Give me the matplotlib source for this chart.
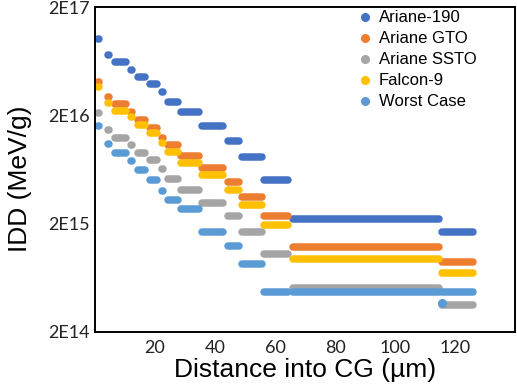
import matplotlib
matplotlib.use('Agg')
import matplotlib.pyplot as plt
from matplotlib.lines import Line2D

# layer boundaries (depth in um) - each layer is one flat step
seg_start = [1.1, 2.5, 4.3, 6.5, 12.1, 14.2, 18.3, 22.3, 24.3, 28.8, 35.5, 44.2, 49.0, 56.3, 66.0, 115.8]
seg_end = [1.3, 2.7, 4.6, 10.3, 12.4, 16.6, 20.7, 22.5, 27.8, 34.5, 42.8, 48.1, 55.6, 64.4, 114.8, 125.9]

ariane_190 = [1.01e17, 8.55e16, 7.2e16, 6.2e16, 5.24e16, 4.52e16, 3.89e16, 3.28e16,
              2.66e16, 2.15e16, 1.59e16, 1.16e16, 8.25e15, 5.1e15, 2.23e15, 1.68e15]
ariane_gto = [4.06e16, 3.43e16, 2.95e16, 2.55e16, 2.15e16, 1.81e16, 1.53e16, 1.24e16,
              1.065e16, 8.5e15, 6.5e15, 4.85e15, 3.53e15, 2.35e15, 1.22e15, 8.9e14]
ariane_ssto = [2.1e16, 1.74e16, 1.47e16, 1.24e16, 1.065e16, 8.98e15, 7.74e15, 6.39e15,
               5.17e15, 4.09e15, 3.1e15, 2.35e15, 1.68e15, 1.05e15, 5.1e14, 3.55e14]
falcon_9 = [3.65e16, 3.02e16, 2.6e16, 2.19e16, 1.93e16, 1.63e16, 1.37e16, 1.11e16,
            9.2e15, 7.26e15, 5.63e15, 4.09e15, 2.97e15, 1.95e15, 9.5e14, 7.0e14]
worst_case = [1.59e16, 1.345e16, 1.09e16, 8.98e15, 7.58e15, 6.26e15, 5.06e15, 4.0e15,
              3.31e15, 2.73e15, 1.68e15, 1.24e15, 8.5e14, 4.68e14, 4.68e14, 4.68e14]
worst_extra_x = [115.6]
worst_extra_y = [3.7e14]

series = [('Ariane-190', ariane_190, '#4472C4'),
          ('Ariane GTO', ariane_gto, '#ED7D31'),
          ('Ariane SSTO', ariane_ssto, '#A5A5A5'),
          ('Falcon-9', falcon_9, '#FFC000'),
          ('Worst Case', worst_case, '#5B9BD5')]

fig = plt.figure(figsize=(5.17, 3.87), dpi=100)
ax = fig.add_axes([95 / 517, 1 - 332 / 387, 420 / 517, 325 / 387])

handles = []
for name, vals, col in series:
    ax.hlines(vals, seg_start, seg_end, colors=col, linewidth=5.4, capstyle='round')
    handles.append(Line2D([], [], ls='none', marker='o', ms=5.5, mfc=col, mec=col, label=name))
ax.plot(worst_extra_x, worst_extra_y, 'o', ms=5.5, color='#5B9BD5')

ax.set_yscale('log')
ax.set_ylim(2e14, 2e17)
ax.set_xlim(0, 140)
ax.set_yticks([2e14, 2e15, 2e16, 2e17])
ax.set_yticklabels(['2E14', '2E15', '2E16', '2E17'])
ax.minorticks_off()
ax.set_xticks([20, 40, 60, 80, 100, 120])
ax.tick_params(length=0, labelsize=13, labelcolor='#222222')
ax.tick_params(axis='y', pad=4)
ax.tick_params(axis='x', pad=6)
for lab in ax.get_xticklabels() + ax.get_yticklabels():
    lab.set_family('Lato')
for sp in ax.spines.values():
    sp.set_linewidth(1.4)

ax.set_xlabel('Distance into CG (\u00b5m)', fontsize=19, family='Liberation Sans')
ax.set_ylabel('IDD (MeV/g)', fontsize=19, family='Liberation Sans')
ax.xaxis.set_label_coords(0.5, -0.08)
ax.yaxis.set_label_coords(-0.15, 0.47)

ax.legend(handles=handles, loc='upper left', bbox_to_anchor=(0.61, 1.01), frameon=False,
          prop={'family': 'Liberation Sans', 'size': 12}, handlelength=0.8,
          handletextpad=0.45, labelspacing=0.36, borderaxespad=0)

fig.savefig('out.png', dpi=100)
